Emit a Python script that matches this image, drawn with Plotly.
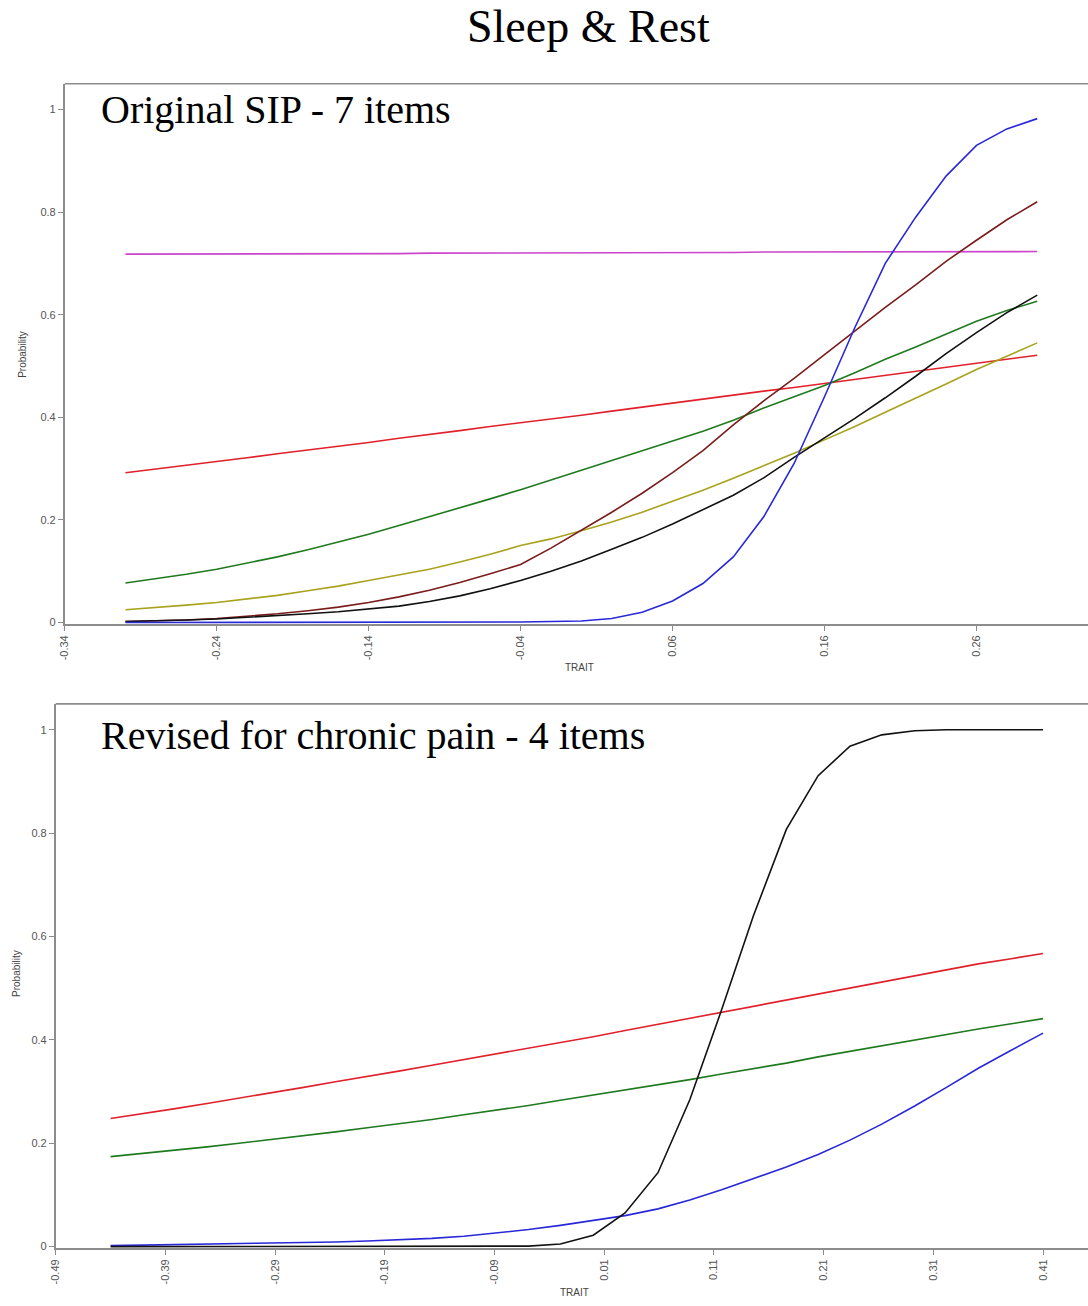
import plotly.graph_objects as go

W, H = 1088, 1306

# ---------------- Top panel: Original SIP - 7 items ----------------
trait_top = [-0.30, -0.28, -0.26, -0.24, -0.22, -0.20, -0.18, -0.16, -0.14, -0.12,
             -0.10, -0.08, -0.06, -0.04, -0.02, 0.00, 0.02, 0.04, 0.06, 0.08,
             0.10, 0.12, 0.14, 0.16, 0.18, 0.20, 0.22, 0.24, 0.26, 0.28, 0.30]

top_magenta = [0.718, 0.718, 0.718, 0.718, 0.718, 0.719, 0.719, 0.719, 0.719, 0.719,
               0.720, 0.720, 0.720, 0.720, 0.720, 0.720, 0.721, 0.721, 0.721, 0.721,
               0.721, 0.722, 0.722, 0.722, 0.722, 0.722, 0.723, 0.723, 0.723, 0.723, 0.723]
top_red = [0.292, 0.299, 0.306, 0.314, 0.321, 0.329, 0.336, 0.344, 0.351, 0.359,
           0.366, 0.374, 0.382, 0.389, 0.397, 0.404, 0.412, 0.420, 0.428, 0.435,
           0.443, 0.451, 0.458, 0.466, 0.474, 0.482, 0.490, 0.497, 0.505, 0.513, 0.521]
top_green = [0.077, 0.085, 0.094, 0.104, 0.116, 0.128, 0.142, 0.157, 0.172, 0.189,
             0.206, 0.223, 0.241, 0.259, 0.278, 0.296, 0.315, 0.334, 0.353, 0.373,
             0.394, 0.418, 0.440, 0.462, 0.487, 0.513, 0.537, 0.562, 0.587, 0.608, 0.626]
top_olive = [0.025, 0.029, 0.034, 0.039, 0.046, 0.053, 0.062, 0.071, 0.082, 0.093,
             0.104, 0.118, 0.133, 0.150, 0.163, 0.179, 0.196, 0.215, 0.236, 0.258,
             0.281, 0.305, 0.330, 0.356, 0.382, 0.410, 0.437, 0.465, 0.493, 0.519, 0.545]
top_maroon = [0.002, 0.003, 0.005, 0.008, 0.012, 0.017, 0.023, 0.030, 0.039, 0.050,
              0.063, 0.078, 0.095, 0.113, 0.145, 0.180, 0.215, 0.252, 0.292, 0.335,
              0.385, 0.432, 0.476, 0.522, 0.568, 0.614, 0.658, 0.704, 0.745, 0.785, 0.820]
top_black = [0.002, 0.003, 0.005, 0.007, 0.010, 0.013, 0.017, 0.021, 0.026, 0.032,
             0.041, 0.052, 0.066, 0.082, 0.100, 0.120, 0.143, 0.166, 0.192, 0.220,
             0.248, 0.282, 0.322, 0.360, 0.398, 0.438, 0.480, 0.524, 0.565, 0.604, 0.638]
top_blue = [0.000, 0.000, 0.000, 0.000, 0.000, 0.000, 0.000, 0.000, 0.000, 0.000,
            0.000, 0.000, 0.000, 0.001, 0.002, 0.003, 0.008, 0.020, 0.042, 0.076,
            0.128, 0.206, 0.310, 0.440, 0.575, 0.700, 0.790, 0.870, 0.930, 0.962, 0.982]

top_ticks = [-0.34, -0.24, -0.14, -0.04, 0.06, 0.16, 0.26]
top_tick_labels = ["-0.34", "-0.24", "-0.14", "-0.04", "0.06", "0.16", "0.26"]

# ---------------- Bottom panel: Revised for chronic pain - 4 items ----------------
trait_bot = [-0.440, -0.411, -0.381, -0.352, -0.323, -0.293, -0.264, -0.235, -0.206, -0.176,
             -0.147, -0.118, -0.088, -0.059, -0.030, 0.000, 0.029, 0.059, 0.088, 0.117,
             0.146, 0.176, 0.205, 0.234, 0.263, 0.293, 0.322, 0.351, 0.381, 0.410]

bot_red = [0.248, 0.257, 0.267, 0.277, 0.287, 0.297, 0.308, 0.319, 0.329, 0.340,
           0.351, 0.362, 0.372, 0.383, 0.394, 0.406, 0.418, 0.430, 0.441, 0.453,
           0.464, 0.476, 0.488, 0.500, 0.511, 0.523, 0.535, 0.547, 0.557, 0.567]
bot_green = [0.174, 0.180, 0.186, 0.193, 0.200, 0.207, 0.214, 0.222, 0.230, 0.238,
             0.246, 0.255, 0.264, 0.273, 0.283, 0.293, 0.303, 0.313, 0.323, 0.334,
             0.344, 0.355, 0.367, 0.378, 0.389, 0.400, 0.411, 0.421, 0.431, 0.441]
bot_blue = [0.002, 0.003, 0.003, 0.004, 0.005, 0.006, 0.007, 0.009, 0.011, 0.013,
            0.016, 0.020, 0.026, 0.033, 0.041, 0.050, 0.060, 0.073, 0.090, 0.110,
            0.131, 0.154, 0.178, 0.206, 0.237, 0.272, 0.308, 0.345, 0.380, 0.413]
bot_black = [0.000, 0.000, 0.000, 0.000, 0.000, 0.000, 0.000, 0.000, 0.000, 0.000,
             0.000, 0.000, 0.000, 0.001, 0.005, 0.022, 0.065, 0.143, 0.284, 0.458,
             0.640, 0.807, 0.911, 0.968, 0.990, 0.998, 1.000, 1.000, 1.000, 1.000]

bot_ticks = [-0.49, -0.39, -0.29, -0.19, -0.09, 0.01, 0.11, 0.21, 0.31, 0.41]
bot_tick_labels = ["-0.49", "-0.39", "-0.29", "-0.19", "-0.09", "0.01", "0.11", "0.21", "0.31", "0.41"]

y_ticks = [0, 0.2, 0.4, 0.6, 0.8, 1]
y_tick_labels = ["0", "0.2", "0.4", "0.6", "0.8", "1"]

# ---------------- figure ----------------
C_MAG = "#cc44cc"
C_RED = "#e0202a"
C_GREEN = "#1f7a1f"
C_OLIVE = "#a8a21c"
C_MAROON = "#7a1c1c"
C_BLACK = "#111111"
C_BLUE = "#2828d8"

fig = go.Figure()
LW = 1.6

for ys, col in [(top_magenta, C_MAG), (top_red, C_RED), (top_green, C_GREEN),
                (top_olive, C_OLIVE), (top_maroon, C_MAROON), (top_black, C_BLACK),
                (top_blue, C_BLUE)]:
    fig.add_trace(go.Scatter(x=trait_top, y=ys, mode="lines",
                             line=dict(color=col, width=LW),
                             xaxis="x", yaxis="y", showlegend=False, hoverinfo="skip"))

for ys, col in [(bot_red, C_RED), (bot_green, C_GREEN), (bot_blue, C_BLUE),
                (bot_black, C_BLACK)]:
    fig.add_trace(go.Scatter(x=trait_bot, y=ys, mode="lines",
                             line=dict(color=col, width=LW),
                             xaxis="x2", yaxis="y2", showlegend=False, hoverinfo="skip"))

AX = "#8c8c8c"
TICKFONT = dict(family="Liberation Sans, Arial, sans-serif", size=11, color="#555555")

def px_x(p):
    return p / W

def px_y(p):
    return 1 - p / H

common_x = dict(showline=True, linecolor=AX, linewidth=1.6, ticks="outside", ticklen=5,
                tickcolor=AX, tickwidth=1.2, showgrid=False, zeroline=False,
                tickangle=-90, tickfont=TICKFONT, layer="below traces", fixedrange=True)
common_y = dict(showline=True, linecolor=AX, linewidth=1.6, ticks="outside", ticklen=5,
                tickcolor=AX, tickwidth=1.2, showgrid=False, zeroline=False,
                tickfont=TICKFONT, tickvals=y_ticks, ticktext=y_tick_labels,
                range=[-0.003, 1.05], layer="below traces", fixedrange=True)

fig.update_layout(
    width=W, height=H,
    margin=dict(l=0, r=0, t=0, b=0),
    paper_bgcolor="white", plot_bgcolor="white",
    xaxis=dict(domain=[px_x(59), 1], range=[-0.34, 0.3334], anchor="y",
               tickvals=top_ticks, ticktext=top_tick_labels, **common_x),
    yaxis=dict(domain=[px_y(626), px_y(84)], anchor="x", **common_y),
    xaxis2=dict(domain=[px_x(50), 1], range=[-0.49, 0.451], anchor="y2",
                tickvals=bot_ticks, ticktext=bot_tick_labels, **common_x),
    yaxis2=dict(domain=[px_y(1252), px_y(706)], anchor="x2", **common_y),
)

# top frame lines (no right frame visible)
for x0, y0 in [(59, 84), (50, 706)]:
    fig.add_shape(type="line", xref="paper", yref="paper",
                  x0=px_x(x0), x1=1.0, y0=px_y(y0), y1=px_y(y0),
                  line=dict(color=AX, width=1.6))

SERIF = "Liberation Serif, Times New Roman, serif"
LBL = dict(family="Liberation Sans, Arial, sans-serif", size=10, color="#444444")

ann = [
    dict(text="Sleep & Rest", x=px_x(586), y=px_y(27), font=dict(family=SERIF, size=46, color="black"),
         xanchor="center", yanchor="middle"),
    dict(text="Original SIP - 7 items", x=px_x(94), y=px_y(110),
         font=dict(family=SERIF, size=40, color="black"), xanchor="left", yanchor="middle"),
    dict(text="Revised for chronic pain - 4 items", x=px_x(94), y=px_y(738),
         font=dict(family=SERIF, size=40, color="black"), xanchor="left", yanchor="middle"),
    dict(text="Probability", x=px_x(17), y=px_y(355), textangle=-90, font=LBL,
         xanchor="center", yanchor="middle"),
    dict(text="Probability", x=px_x(10), y=px_y(976), textangle=-90, font=LBL,
         xanchor="center", yanchor="middle"),
    dict(text="TRAIT", x=px_x(577), y=px_y(670), font=LBL, xanchor="center", yanchor="middle"),
    dict(text="TRAIT", x=px_x(572), y=px_y(1296), font=LBL, xanchor="center", yanchor="middle"),
]
for a in ann:
    fig.add_annotation(xref="paper", yref="paper", showarrow=False, **a)

fig.write_html("out.html")
